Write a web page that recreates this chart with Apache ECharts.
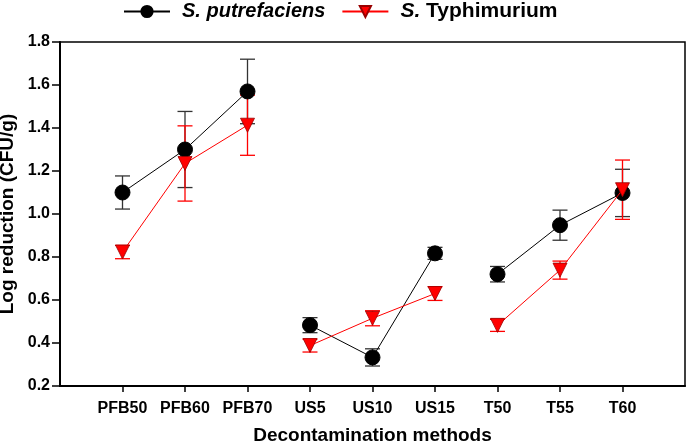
<!DOCTYPE html>
<html>
<head>
<meta charset="utf-8">
<script src="https://cdn.jsdelivr.net/npm/echarts@6/dist/echarts.min.js"></script>
<style>html,body{margin:0;padding:0;background:#fff}#c{width:686px;height:442px}</style>
</head>
<body>
<div id="c"></div>
<script>
var categories = ['PFB50','PFB60','PFB70','US5','US10','US15','T50','T55','T60'];
var groupSizes = [3, 3, 3];
var putrefaciens = [1.10, 1.30, 1.57, 0.483, 0.333, 0.817, 0.72, 0.948, 1.098];
var putrefaciensErr = [0.077, 0.177, 0.15, 0.035, 0.04, 0.028, 0.036, 0.07, 0.11];
var typhimurium = [0.823, 1.235, 1.413, 0.388, 0.515, 0.630, 0.482, 0.739, 1.113];
var typhimuriumErr = [0.031, 0.175, 0.14, 0.03, 0.035, 0.032, 0.028, 0.042, 0.138];
var yTicks = [0.2, 0.4, 0.6, 0.8, 1.0, 1.2, 1.4, 1.6, 1.8];

var FONT = '"Liberation Sans", Arial, sans-serif';
var axisCats = [''].concat(categories).concat(['']);

function groupData(vals, g){
  var start = 0;
  for (var k = 0; k < g; k++) start += groupSizes[k];
  var out = [null];
  for (var i = 0; i < vals.length; i++) {
    out.push(i >= start && i < start + groupSizes[g] ? vals[i] : null);
  }
  out.push(null);
  return out;
}
function errData(vals, errs){
  return vals.map(function(v,i){ return [i+1, v-errs[i], v+errs[i]]; });
}
function errSeries(name, vals, errs, color){
  return {
    type:'custom', name:name, silent:true, z:2,
    data: errData(vals, errs),
    renderItem: function(params, api){
      var x = api.value(0);
      var lo = api.coord([x, api.value(1)]);
      var hi = api.coord([x, api.value(2)]);
      var hw = 7.5;
      var st = {stroke: color, lineWidth: 1.3, fill: null};
      return {type:'group', children:[
        {type:'line', shape:{x1:lo[0],y1:lo[1],x2:hi[0],y2:hi[1]}, style:st},
        {type:'line', shape:{x1:lo[0]-hw,y1:lo[1],x2:lo[0]+hw,y2:lo[1]}, style:st},
        {type:'line', shape:{x1:hi[0]-hw,y1:hi[1],x2:hi[0]+hw,y2:hi[1]}, style:st}
      ]};
    }
  };
}
function lineSeries(name, vals, kind){
  var out = [];
  for (var g = 0; g < groupSizes.length; g++) {
    if (kind === 'p') {
      out.push({
        name:name, type:'line', data:groupData(vals, g), z:3,
        symbol:'circle', symbolSize:15, connectNulls:false,
        lineStyle:{color:'#000', width:1},
        itemStyle:{color:'#000', borderColor:'#000', borderWidth:1}
      });
    } else {
      out.push({
        name:name, type:'line', data:groupData(vals, g), z:4,
        symbol:'triangle', symbolRotate:180, symbolSize:14, connectNulls:false,
        lineStyle:{color:'#ff0000', width:1},
        itemStyle:{color:'#ff0000', borderColor:'#900', borderWidth:0.8}
      });
    }
  }
  return out;
}

var series = [
  errSeries('errP', putrefaciens, putrefaciensErr, '#333'),
  errSeries('errT', typhimurium, typhimuriumErr, '#ff0000')
].concat(lineSeries('S. putrefaciens', putrefaciens, 'p'))
 .concat(lineSeries('S. Typhimurium', typhimurium, 't'));

var chart = echarts.init(document.getElementById('c'), null, {renderer:'canvas'});
chart.setOption({
  animation:false,
  backgroundColor:'#fff',
  legend:{
    left:123, top:1, padding:0, itemWidth:46, itemHeight:14, itemGap:16,
    data:['S. putrefaciens','S. Typhimurium'],
    formatter:function(n){
      if(n==='S. putrefaciens') return '{sp|}{a|S. putrefaciens}';
      return '{sp|}{i|S.}{b| Typhimurium}';
    },
    textStyle:{
      fontFamily:FONT, fontSize:21, fontWeight:'bold', color:'#000',
      rich:{
        sp:{width:7},
        a:{fontFamily:FONT, fontSize:20, fontWeight:'bold', fontStyle:'italic', color:'#000'},
        i:{fontFamily:FONT, fontSize:21, fontWeight:'bold', fontStyle:'italic', color:'#000'},
        b:{fontFamily:FONT, fontSize:21, fontWeight:'bold', color:'#000'}
      }
    }
  },
  grid:{left:60, right:1, top:42, bottom:56, outerBoundsMode:'none', containLabel:false,
        show:true, borderColor:'#000', borderWidth:1.5, backgroundColor:'transparent'},
  xAxis:{
    type:'category', data:axisCats, boundaryGap:false,
    name:'Decontamination methods', nameLocation:'middle', nameGap:40,
    nameTextStyle:{fontFamily:FONT, fontSize:19, fontWeight:'bold', color:'#000'},
    axisLine:{lineStyle:{color:'#000', width:2}},
    axisTick:{length:6, lineStyle:{color:'#000', width:1.5},
      interval:function(i,v){ return v!==''; }},
    axisLabel:{fontFamily:FONT, fontSize:16, fontWeight:'bold', color:'#000', margin:15,
      interval:function(i,v){ return v!==''; }},
    splitLine:{show:false}
  },
  yAxis:{
    type:'value', min:yTicks[0], max:yTicks[yTicks.length-1], interval:0.2,
    name:'Log reduction (CFU/g)', nameLocation:'middle', nameGap:43,
    nameTextStyle:{fontFamily:FONT, fontSize:19, fontWeight:'bold', color:'#000'},
    axisLine:{show:true, lineStyle:{color:'#000', width:2}},
    axisTick:{show:true, length:8, lineStyle:{color:'#000', width:1.5}},
    axisLabel:{fontFamily:FONT, fontSize:16, fontWeight:'bold', color:'#000', margin:10,
      formatter:function(v){ return v.toFixed(1); }},
    splitLine:{show:false}
  },
  series:series
});
</script>
</body>
</html>
